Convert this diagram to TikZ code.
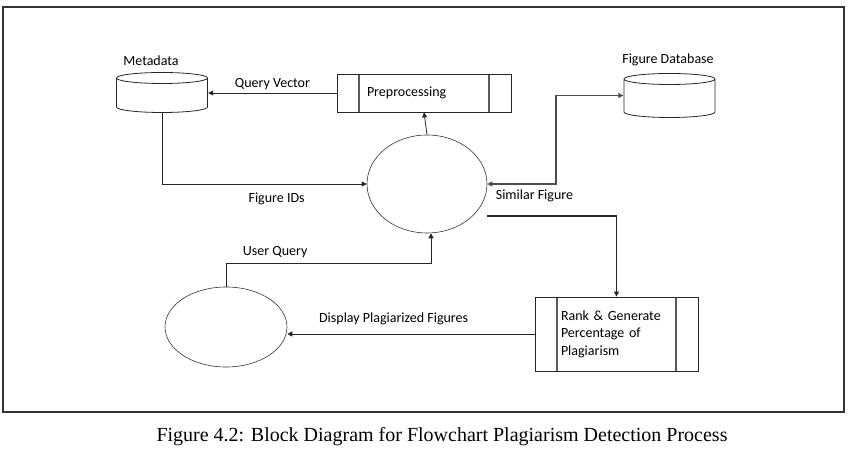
\documentclass[tikz,border=0pt]{standalone}
\usepackage{fontspec}
\setmainfont{Liberation Serif}
\newfontfamily\diagfont{Carlito}
\usetikzlibrary{arrows.meta,shapes.geometric}

\begin{document}
\begin{tikzpicture}[x=1pt,y=1pt,font=\diagfont\fontsize{14}{17}\selectfont,
  line/.style={draw=black!85,line width=.8pt},
  arr/.style={line,-{Triangle[length=5pt,width=5pt]}},
  db/.style={minimum width=92pt,inner sep=0pt,
    path picture={\draw[black!85,line width=.8pt] ([yshift=-6pt]path picture bounding box.north) ellipse[x radius=45.5pt,y radius=5.5pt]
      ([xshift=.5pt,yshift=-6pt]path picture bounding box.north west) -- ([xshift=.5pt,yshift=6pt]path picture bounding box.south west) arc[start angle=180,end angle=360,x radius=45.5pt,y radius=5.5pt] -- ([xshift=-.5pt,yshift=-6pt]path picture bounding box.north east);}},
  blob/.style={ellipse,draw=black!80,line width=.6pt,inner sep=0pt},
  proc/.style={draw=black!85,line width=.8pt,inner ysep=0pt,align=left,
    path picture={\draw[black!65,line width=1.2pt] ([xshift=22pt]path picture bounding box.north west) -- ([xshift=22pt]path picture bounding box.south west) ([xshift=-22pt]path picture bounding box.north east) -- ([xshift=-22pt]path picture bounding box.south east);}}]
  \useasboundingbox (0,0) rectangle (852,452);
  \draw[black!80,line width=2pt] (2.5,445) rectangle (844,40);
  \node[db,minimum height=41pt] (meta) at (162,359.5) {};
  \node (metalabel) at (151,391) {Metadata};
  \node[db,minimum height=45pt] (figdb) at (669.5,356.5) {};
  \node (figdblabel) at (668,392) {Figure Database};
  \node[proc,minimum height=38pt,text width=114pt,inner xsep=30pt] (pre) at (424,359) {Preprocessing};
  \node[blob,minimum width=120pt,minimum height=98pt] (match) at (427,268) {};
  \node[blob,minimum width=122pt,minimum height=80pt] (user) at (226,125) {};
  \node[proc,minimum height=74pt,text width=111pt,inner xsep=26pt,font=\diagfont\fontsize{14}{17.5}\selectfont] (rank) at (616.5,118) {Rank \& Generate\\Percentage of\\Plagiarism};
  \draw[arr] (pre.west) -- (pre.west -| meta.east) node[midway,above] (qvlabel) {Query Vector};
  \draw[arr] (match.north) -- (pre.south);
  \draw[arr] (meta.south) |- (match.west) node[pos=.78,below=5pt] (idlabel) {Figure IDs};
  \coordinate (simbend) at (556,356.5);
  \draw[line,draw=black!70,line width=1.1pt,{Triangle[length=5pt,width=5pt]}-{Triangle[length=5pt,width=5pt]}] (match.east) -| (simbend) -- (figdb.west);
  \node[anchor=north west,xshift=5pt,yshift=-2pt] (simlabel) at (match.east) {Similar Figure};
  \draw[arr,line width=1.2pt] ([yshift=-32pt]match.east) -| (rank.north);
  \coordinate (uqbend) at (431,189);
  \draw[arr] (user.north) |- (uqbend) node[pos=.62,above=2pt] (uqlabel) {User Query} -- (uqbend |- match.south);
  \draw[arr] (rank.west) -- (rank.west -| user.east) node[pos=.57,above=5pt] (displabel) {Display Plagiarized Figures};
  \node[font=\rmfamily\fontsize{20}{22}\selectfont] (caption) at (442,15) {Figure 4.2: Block Diagram for Flowchart Plagiarism Detection Process};
\end{tikzpicture}
\end{document}
